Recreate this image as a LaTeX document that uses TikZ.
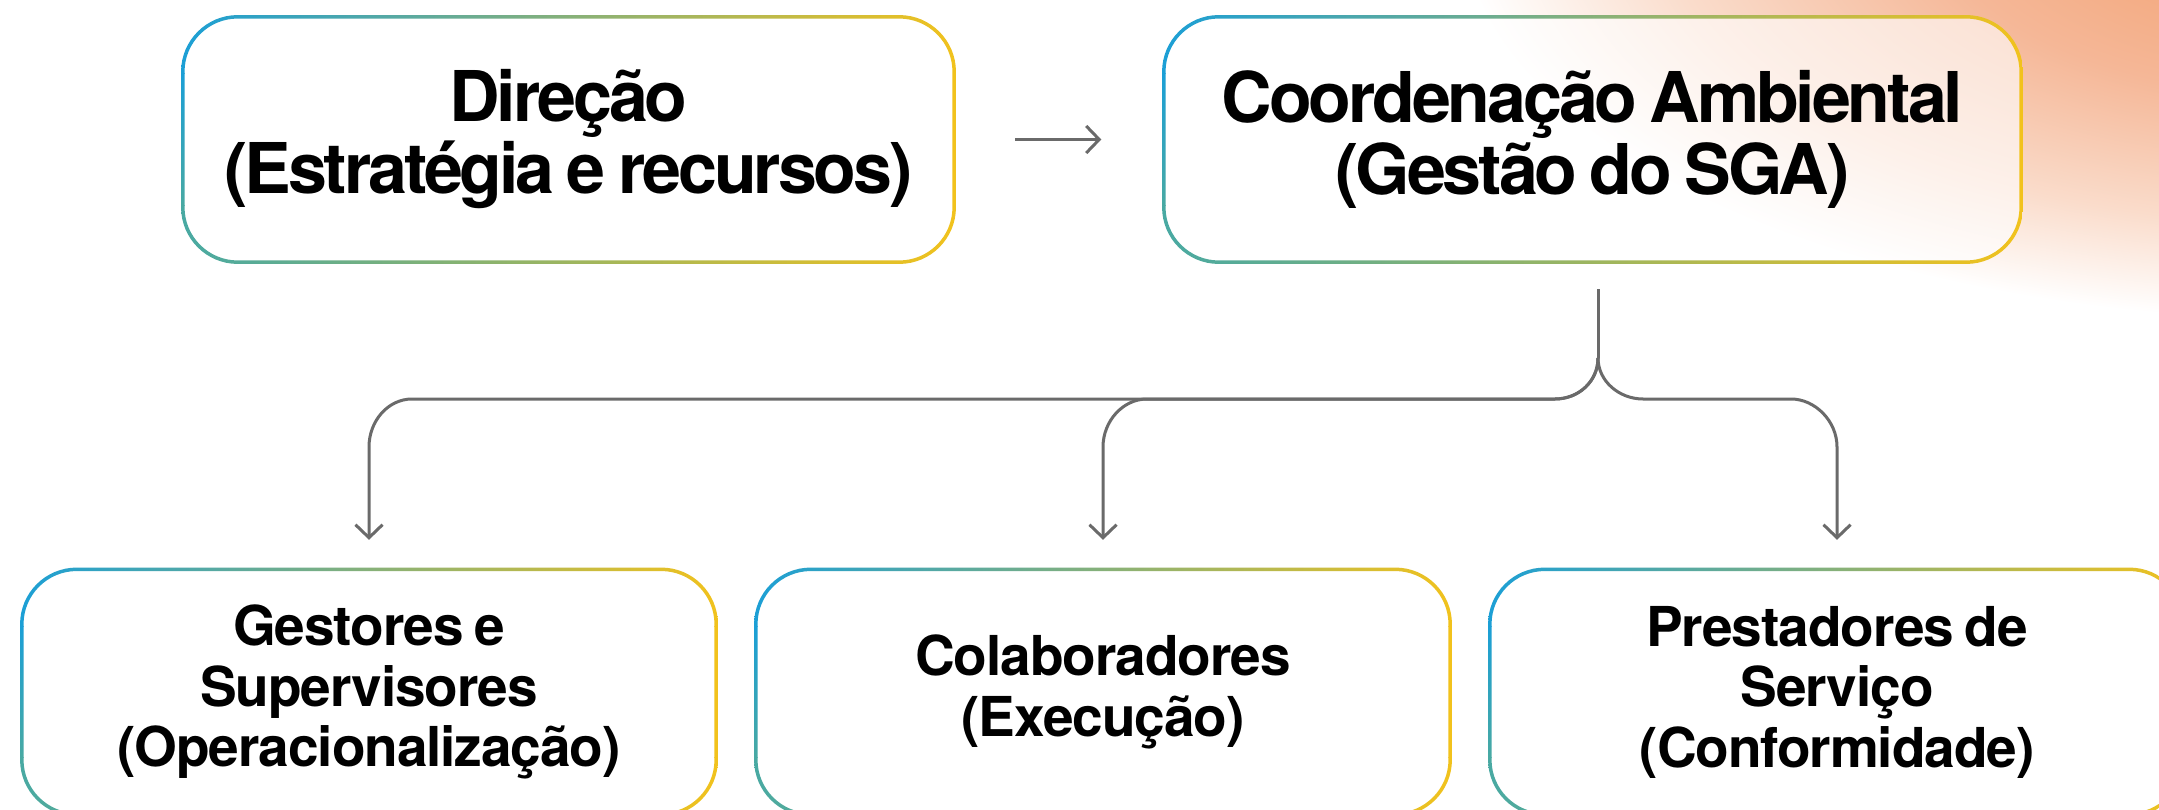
\documentclass[tikz,border=0pt]{standalone}
\usepackage{fontspec}
\setmainfont{TeX Gyre Heros}
\newfontfamily\headfont{TeX Gyre Heros}[LetterSpace=-4.5, WordSpace=0.75]
\newfontfamily\unitfont{TeX Gyre Heros}[LetterSpace=-2, WordSpace=0.75]
\usetikzlibrary{arrows.meta, calc}

\definecolor{edgeblue}{HTML}{1B9FD6}
\definecolor{edgeteal}{HTML}{48A9A3}
\definecolor{edgeyellow}{HTML}{F2C21C}
\definecolor{linkgray}{HTML}{6A6A6A}
\definecolor{glowcore}{HTML}{F19C68}
\definecolor{glowmid}{HTML}{F5B797}
\definecolor{glowpale}{HTML}{FADCCB}

% soft peach glow, fading to white at the rim of the shaded path
\pgfdeclareradialshading{cornerglow}{\pgfpoint{0bp}{0bp}}{%
  color(0bp)=(glowcore); color(11bp)=(glowmid); color(19bp)=(glowpale);
  color(25bp)=(white); color(50bp)=(white)}

\tikzset{
  card/.style={rectangle, rounded corners=55pt, fill=white, fill opacity=0.6,
    text opacity=1, inner sep=0pt, align=center, text=black},
  headcard/.style={card, minimum height=245pt,
    font=\headfont\bfseries\fontsize{70}{72}\selectfont},
  unitcard/.style={card, minimum width=694pt, minimum height=245pt,
    font=\unitfont\bfseries\fontsize{55}{60.5}\selectfont},
  link/.style={draw=linkgray, line width=3pt},
  linktip/.style={link, -{Straight Barb[length=13pt, width=27pt, sep=1.5pt]}},
}

% gradient outline (blue top-left, teal bottom-left, yellow right) around a card
\newcommand\cardedge[1]{%
  \begin{scope}[even odd rule]
    \clip
      [rounded corners=56.75pt] ([shift={(-1.75pt,1.75pt)}]#1.north west)
        rectangle ([shift={(1.75pt,-1.75pt)}]#1.south east)
      [rounded corners=53.25pt] ([shift={(1.75pt,-1.75pt)}]#1.north west)
        rectangle ([shift={(-1.75pt,1.75pt)}]#1.south east);
    \shade[left color=edgeblue, right color=edgeyellow]
      ([shift={(-4pt,4pt)}]#1.north west) rectangle ([shift={(4pt,-57pt)}]#1.north east);
    \shade[top color=edgeblue, bottom color=edgeteal]
      ([shift={(-4pt,-57pt)}]#1.north west) rectangle ([shift={(60pt,57pt)}]#1.south west);
    \fill[edgeyellow]
      ([shift={(-60pt,-57pt)}]#1.north east) rectangle ([shift={(4pt,57pt)}]#1.south east);
    \shade[left color=edgeteal, right color=edgeyellow]
      ([shift={(-4pt,57pt)}]#1.south west) rectangle ([shift={(4pt,-4pt)}]#1.south east);
  \end{scope}}

\begin{document}
\begin{tikzpicture}[x=1pt, y=-1pt]
  \useasboundingbox (0,0) rectangle (2159,810);
  \fill[white] (0,0) rectangle (2159,810);

  % warm glow in the upper right corner
  \begin{scope}
    \clip (0,0) rectangle (2159,810);
    \shade[shading=cornerglow]
      (2320,-80) ellipse [x radius=860pt, y radius=400pt];
  \end{scope}

  % cards
  \node[headcard, minimum width=771pt] (dir) at (568.5,139.5)
    {Direção\\(Estratégia e recursos)};
  \node[headcard, minimum width=857pt] (coord) at (1592.5,139.5)
    {Coordenação Ambiental\\(Gestão do SGA)};
  \node[unitcard] (gest) at (369,692)
    {Gestores e\\Supervisores\\(Operacionalização)};
  \node[unitcard] (colab) at (1103,692)
    {Colaboradores\\(Execução)};
  \node[unitcard] (prest) at (1837,692)
    {Prestadores de\\Serviço\\(Conformidade)};

  \cardedge{dir}
  \cardedge{coord}
  \cardedge{gest}
  \cardedge{colab}
  \cardedge{prest}

  % connectors
  \draw[linktip, shorten <=61pt, shorten >=61pt] (dir) -- (coord);

  \coordinate (hub) at (1598,358);
  \coordinate (bus) at (0,399);
  \draw[link, shorten <=27pt] ([xshift=5.5pt]coord.south) -- (hub);

  \draw[linktip, shorten >=28pt] (hub) .. controls +(0,23) and +(24,0) .. (1555,399)
    -- ($(gest.north |- bus)+(43,0)$)
    .. controls +(-24,0) and +(0,-26) .. ($(gest.north |- bus)+(0,48)$)
    -- (gest.north);
  \draw[linktip, shorten >=28pt] (hub) .. controls +(0,23) and +(24,0) .. (1555,399)
    -- ($(colab.north |- bus)+(44,0)$)
    .. controls +(-24,0) and +(0,-26) .. ($(colab.north |- bus)+(0,48)$)
    -- (colab.north);
  \draw[linktip, shorten >=28pt] (hub) .. controls +(0,23) and +(-24,0) .. (1643,399)
    -- ($(prest.north |- bus)+(-46,0)$)
    .. controls +(24,0) and +(0,-26) .. ($(prest.north |- bus)+(0,48)$)
    -- (prest.north);
\end{tikzpicture}
\end{document}
